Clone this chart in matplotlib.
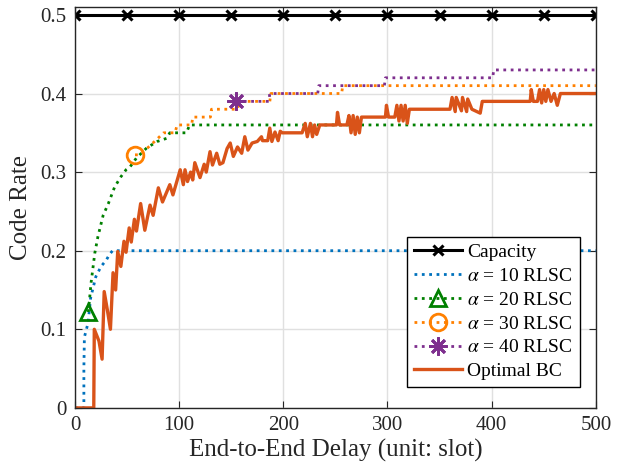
import numpy as np
import matplotlib
matplotlib.use("Agg")
import matplotlib.pyplot as plt

# --- data ---
cap_delay = [0, 50, 100, 150, 200, 250, 300, 350, 400, 450, 500]
cap_rate = [0.5] * len(cap_delay)

a10_delay = [0, 8.5, 8.5, 9, 12.5, 15, 20, 25, 30, 33, 36, 500]
a10_rate = [0, 0, 0.05, 0.09, 0.108, 0.14, 0.167, 0.18, 0.188, 0.195, 0.20, 0.20]

a20_delay = [12.8, 15.4, 19, 22, 27, 32, 38, 44, 49, 53, 59, 69, 79, 88, 91, 107, 110, 500]
a20_rate = [0.122, 0.159, 0.197, 0.218, 0.245, 0.26, 0.281, 0.294, 0.303, 0.307,
            0.318, 0.331, 0.339, 0.343, 0.35, 0.35, 0.36, 0.36]

a30_delay = [57.6, 62, 69, 78, 85, 96, 98, 112, 113, 130, 131, 156, 158, 187, 188,
             256, 257, 500]
a30_rate = [0.322, 0.322, 0.33, 0.341, 0.35, 0.35, 0.36, 0.36, 0.37, 0.37, 0.38,
            0.38, 0.39, 0.39, 0.40, 0.40, 0.41, 0.41]

a40_delay = [155, 186, 187, 233, 234, 297, 298, 401, 402, 500]
a40_rate = [0.39, 0.39, 0.40, 0.40, 0.41, 0.41, 0.42, 0.42, 0.43, 0.43]

bc_delay = [0, 18, 18.5, 23, 26, 28, 31, 34, 36.5, 39, 41, 44, 47, 49, 52, 54, 57, 59,
            63, 67, 72, 75, 80, 84, 91, 94, 101, 104, 105.6, 108, 111, 113, 115, 120,
            124, 126, 129.6, 132, 136, 139, 142, 146, 149, 152, 156, 160, 163, 166,
            170, 175, 179, 180, 185, 187, 189, 192, 195, 197, 199, 218, 221, 223, 226,
            228, 230, 232, 235, 251, 252, 254, 261, 263, 265, 267, 269, 271, 273, 275,
            298, 299, 301, 307, 309, 311, 313, 315, 317, 319, 321, 360, 362, 365, 366,
            371, 372, 376, 377, 381, 389, 391, 437, 438, 440, 444, 446, 448, 450, 452,
            454, 457, 460, 463, 466, 500]
bc_rate = [0, 0, 0.10, 0.085, 0.062, 0.148, 0.125, 0.10, 0.172, 0.15, 0.199, 0.18,
           0.212, 0.198, 0.229, 0.211, 0.24, 0.225, 0.26, 0.226, 0.258, 0.245, 0.28,
           0.262, 0.284, 0.271, 0.303, 0.284, 0.303, 0.288, 0.30, 0.29, 0.312, 0.293,
           0.31, 0.30, 0.326, 0.309, 0.324, 0.31, 0.312, 0.33, 0.337, 0.32, 0.332,
           0.324, 0.345, 0.328, 0.337, 0.339, 0.345, 0.34, 0.34, 0.356, 0.339, 0.351,
           0.34, 0.352, 0.35, 0.35, 0.362, 0.345, 0.362, 0.345, 0.36, 0.348, 0.36,
           0.36, 0.376, 0.36, 0.36, 0.372, 0.35, 0.372, 0.348, 0.37, 0.35, 0.37,
           0.37, 0.385, 0.37, 0.37, 0.385, 0.365, 0.385, 0.365, 0.385, 0.362, 0.38,
           0.38, 0.395, 0.377, 0.395, 0.378, 0.395, 0.377, 0.393, 0.38, 0.375, 0.39,
           0.39, 0.405, 0.39, 0.39, 0.405, 0.388, 0.405, 0.39, 0.405, 0.39, 0.40,
           0.385, 0.40, 0.40]

x_ticks = [0, 100, 200, 300, 400, 500]
y_ticks = [0, 0.1, 0.2, 0.3, 0.4, 0.5]

plt.rcParams['font.family'] = ['Liberation Serif', 'DejaVu Serif']
plt.rcParams['mathtext.fontset'] = 'stix'

fig = plt.figure(figsize=(6.2, 4.71), dpi=100)
ax = fig.add_axes([0.121, 0.134, 0.840, 0.851])

ax.plot(cap_delay, cap_rate, color='black', lw=2.2, marker='x', ms=7, mew=2.2,
        label='Capacity')
ax.plot(a10_delay, a10_rate, color='#0072BD', lw=2, ls=':', label=r'$\alpha$ = 10 RLSC')
ax.plot(a20_delay, a20_rate, color='#008000', lw=2, ls=':', marker='^', ms=12,
        mfc='none', mew=2, markevery=[0], label=r'$\alpha$ = 20 RLSC')
ax.plot(a30_delay, a30_rate, color='#FF8000', lw=2, ls=':', marker='o', ms=12,
        mfc='none', mew=2, markevery=[0], label=r'$\alpha$ = 30 RLSC')
ax.plot(a40_delay, a40_rate, color='#7E2F8E', lw=2, ls=':', marker=(8, 2, 0), ms=13,
        mew=2, markevery=[0], label=r'$\alpha$ = 40 RLSC')
ax.plot(bc_delay, bc_rate, color='#D95319', lw=2.4, label='Optimal BC')

ax.set_xlim(0, 500)
ax.set_ylim(0, 0.51)
ax.set_xticks(x_ticks)
ax.set_yticks(y_ticks)
ax.set_yticklabels(['0', '0.1', '0.2', '0.3', '0.4', '0.5'])
ax.grid(True, color='#e0e0e0', lw=1)
ax.set_axisbelow(True)
ax.tick_params(direction='in', top=True, right=True, labelsize=15, length=5,
               color='#262626', labelcolor='#262626', pad=6)
for s in ax.spines.values():
    s.set_color('#262626')
    s.set_linewidth(1)

ax.set_xlabel('End-to-End Delay (unit: slot)', fontsize=18, color='#262626', labelpad=3)
ax.set_ylabel('Code Rate', fontsize=18, color='#262626', labelpad=6)

leg = ax.legend(loc='lower right', bbox_to_anchor=(0.969, 0.052), fontsize=14,
                handlelength=2.45, labelspacing=0.32, borderpad=0.35,
                handletextpad=0.3, fancybox=False, framealpha=1,
                edgecolor='black', borderaxespad=0)
leg.get_frame().set_linewidth(1)

fig.savefig('out.png', dpi=100)
